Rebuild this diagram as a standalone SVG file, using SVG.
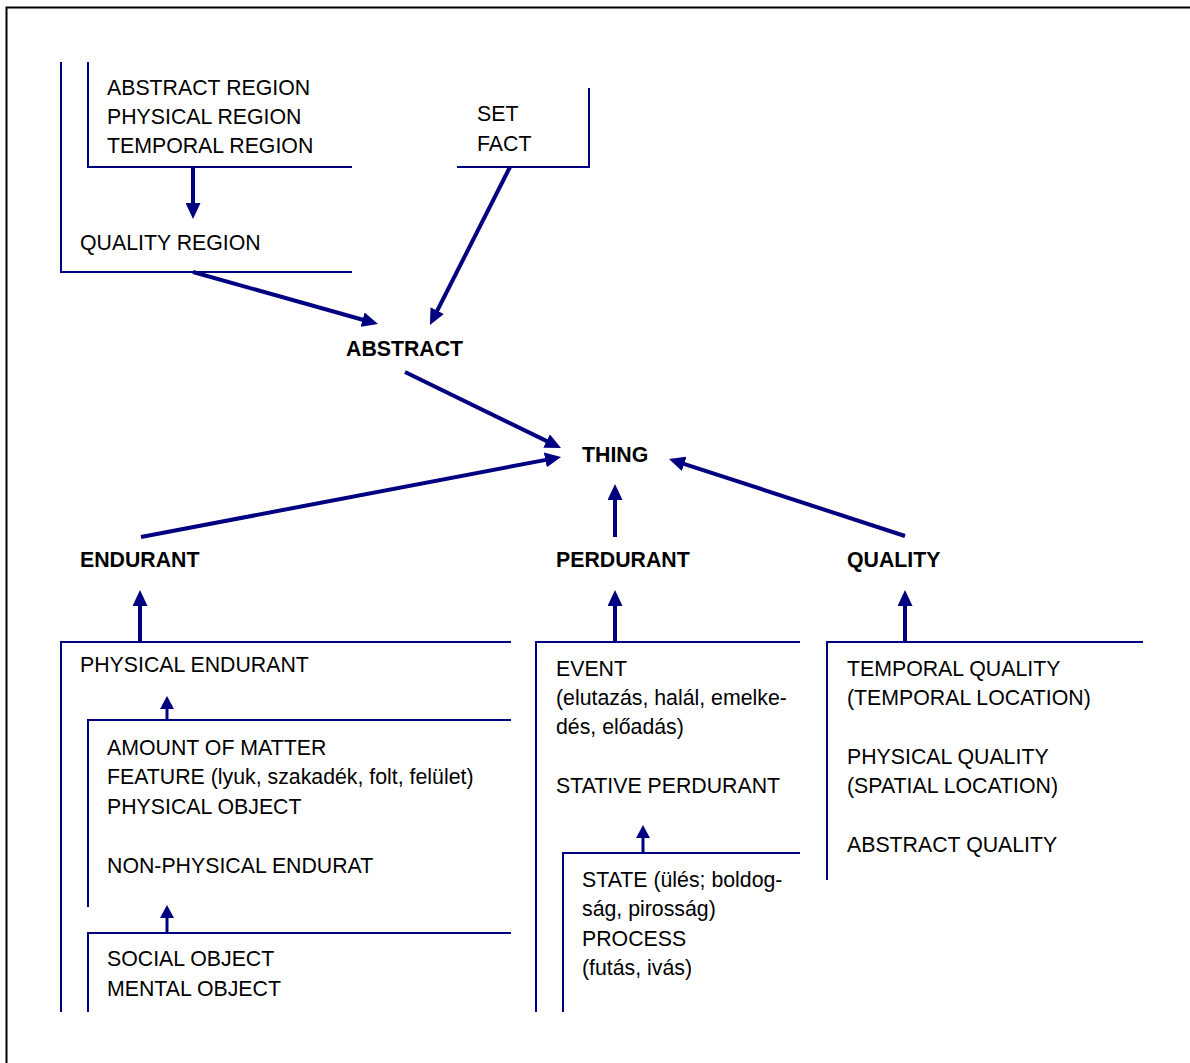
<svg xmlns="http://www.w3.org/2000/svg" width="1190" height="1063" viewBox="0 0 1190 1063">
<defs>
<style>
.t{font-family:"Liberation Sans",Arial,sans-serif;font-size:21.3px;fill:#000}
.b{font-family:"Liberation Sans",Arial,sans-serif;font-size:21.3px;font-weight:bold;fill:#000}
.box{fill:none;stroke:#000080;stroke-width:2}
.arr{fill:none;stroke:#000080;stroke-width:4;marker-end:url(#ah)}
.sarr{fill:none;stroke:#000080;stroke-width:3;marker-end:url(#sah)}
</style>
<marker id="ah" markerUnits="userSpaceOnUse" markerWidth="16" markerHeight="15" refX="2" refY="7.5" orient="auto" viewBox="0 0 16 15">
<path d="M0,0 L16,7.5 L0,15 z" fill="#000080"/>
</marker>
<marker id="sah" markerUnits="userSpaceOnUse" markerWidth="13" markerHeight="14" refX="1" refY="7" orient="auto" viewBox="0 0 13 14">
<path d="M0,0 L13,7 L0,14 z" fill="#000080"/>
</marker>
</defs>
<rect x="0" y="0" width="1190" height="1063" fill="#fff"/>
<path d="M6.5,1063 V7.5 H1190" fill="none" stroke="#000" stroke-width="2"/>

<g id="quality-region-group">
<path class="box" d="M61,62 V272 H352"/>
<text class="t" x="80" y="250">QUALITY REGION</text>
</g>
<g id="regions">
<path class="box" d="M88,62 V167 H352"/>
<text class="t" x="107" y="95">ABSTRACT REGION</text>
<text class="t" x="107" y="124">PHYSICAL REGION</text>
<text class="t" x="107" y="153">TEMPORAL REGION</text>
</g>
<g id="set-fact">
<path class="box" d="M457,167 H589 V88"/>
<text class="t" x="477" y="121">SET</text>
<text class="t" x="477" y="151">FACT</text>
</g>
<g id="abstract"><text class="b" x="346" y="356">ABSTRACT</text></g>
<g id="thing"><text class="b" x="582" y="462">THING</text></g>
<g id="endurant"><text class="b" x="80" y="567">ENDURANT</text></g>
<g id="perdurant"><text class="b" x="556" y="567">PERDURANT</text></g>
<g id="quality"><text class="b" x="847" y="567">QUALITY</text></g>

<g id="physical-endurant">
<path class="box" d="M61,1012 V642 H511"/>
<text class="t" x="80" y="672">PHYSICAL ENDURANT</text>
</g>
<g id="endurant-subtypes">
<path class="box" d="M88,907 V720 H511"/>
<text class="t" x="107" y="755">AMOUNT OF MATTER</text>
<text class="t" x="107" y="784">FEATURE (lyuk, szakadék, folt, felület)</text>
<text class="t" x="107" y="814">PHYSICAL OBJECT</text>
<text class="t" x="107" y="873">NON-PHYSICAL ENDURAT</text>
</g>
<g id="nonphysical-subtypes">
<path class="box" d="M88,1012 V933 H511"/>
<text class="t" x="107" y="966">SOCIAL OBJECT</text>
<text class="t" x="107" y="996">MENTAL OBJECT</text>
</g>
<g id="perdurant-subtypes">
<path class="box" d="M536,1012 V642 H800"/>
<text class="t" x="556" y="676">EVENT</text>
<text class="t" x="556" y="705">(elutazás, halál, emelke-</text>
<text class="t" x="556" y="734">dés, előadás)</text>
<text class="t" x="556" y="793">STATIVE PERDURANT</text>
</g>
<g id="stative-subtypes">
<path class="box" d="M563,1012 V853 H800"/>
<text class="t" x="582" y="887">STATE (ülés; boldog-</text>
<text class="t" x="582" y="916">ság, pirosság)</text>
<text class="t" x="582" y="946">PROCESS</text>
<text class="t" x="582" y="975">(futás, ivás)</text>
</g>
<g id="quality-subtypes">
<path class="box" d="M827,880 V642 H1143"/>
<text class="t" x="847" y="676">TEMPORAL QUALITY</text>
<text class="t" x="847" y="705">(TEMPORAL LOCATION)</text>
<text class="t" x="847" y="764">PHYSICAL QUALITY</text>
<text class="t" x="847" y="793">(SPATIAL LOCATION)</text>
<text class="t" x="847" y="852">ABSTRACT QUALITY</text>
</g>

<g id="connectors">
<line class="arr" x1="193" y1="167" x2="193" y2="205"/>
<line class="arr" x1="193" y1="272" x2="364.5" y2="320.2"/>
<line class="arr" x1="510" y1="167" x2="436.3" y2="312.5"/>
<line class="arr" x1="405" y1="372" x2="548.4" y2="441.9"/>
<line class="arr" x1="141" y1="537" x2="547.3" y2="459.6"/>
<line class="arr" x1="615" y1="537" x2="615" y2="498"/>
<line class="arr" x1="905" y1="536" x2="682.3" y2="463.3"/>
<line class="arr" x1="140" y1="642" x2="140" y2="604"/>
<line class="arr" x1="615" y1="642" x2="615" y2="604"/>
<line class="arr" x1="905" y1="642" x2="905" y2="604"/>
<line class="sarr" x1="167" y1="720" x2="167" y2="708"/>
<line class="sarr" x1="167" y1="933" x2="167" y2="917"/>
<line class="sarr" x1="643" y1="853" x2="643" y2="837"/>
</g>
</svg>
